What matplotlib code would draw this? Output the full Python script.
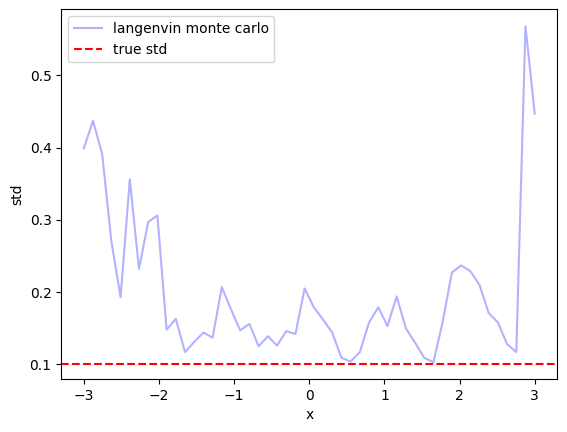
import numpy as np
import matplotlib
matplotlib.use("Agg")
from matplotlib import pyplot as plt

# Data:
x_values = np.linspace(-3, 3, 50)
std_values = [
    0.399, 0.437, 0.391, 0.270, 0.193, 0.356, 0.232, 0.297, 0.306, 0.148,
    0.163, 0.117, 0.131, 0.144, 0.137, 0.207, 0.176, 0.147, 0.156, 0.125,
    0.139, 0.126, 0.146, 0.142, 0.205, 0.179, 0.162, 0.144, 0.109, 0.104,
    0.117, 0.158, 0.179, 0.153, 0.194, 0.150, 0.130, 0.109, 0.103, 0.159,
    0.227, 0.237, 0.229, 0.210, 0.171, 0.158, 0.128, 0.117, 0.568, 0.447,
]
true_std = 0.1

fig = plt.figure(figsize=(5.67, 4.32), dpi=100)
ax = fig.add_axes([0.108, 0.1227, 0.8748, 0.8556])

ax.plot(x_values, std_values, color="blue", alpha=0.3,
        label="langenvin monte carlo")
ax.axhline(true_std, color="red", linestyle="--", label="true std")

ax.set_xlabel("x")
ax.set_ylabel("std")
ax.legend(loc="upper left")

fig.savefig("out.png", dpi=100)
